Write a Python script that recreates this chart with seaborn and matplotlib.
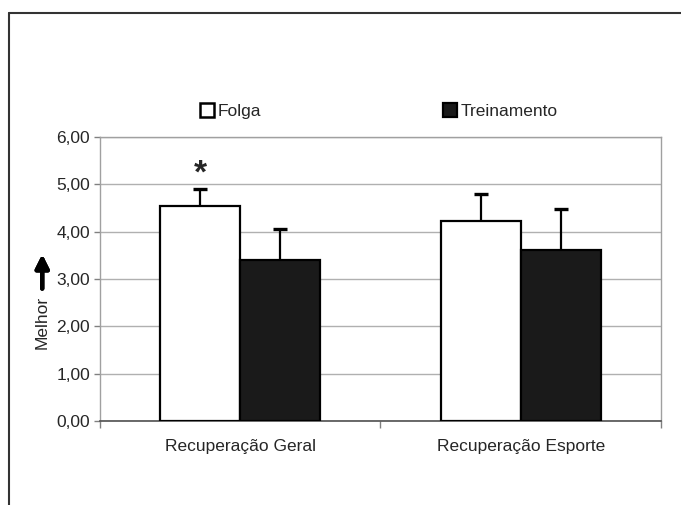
import pandas as pd
import seaborn as sns
import matplotlib.pyplot as plt
from matplotlib.lines import Line2D
from matplotlib.ticker import FuncFormatter

categorias = ['Recuperação Geral', 'Recuperação Esporte']
grupos = ['Folga', 'Treinamento']
folga = [4.54, 4.22]
treino = [3.40, 3.62]
folga_dp = [0.36, 0.58]
treino_dp = [0.66, 0.85]

df = pd.DataFrame({
    'cat': categorias * 2,
    'grupo': [grupos[0]] * 2 + [grupos[1]] * 2,
    'valor': folga + treino,
    'dp': folga_dp + treino_dp,
})

sns.set_theme(style='white')
plt.rcParams['font.family'] = ['Liberation Sans', 'DejaVu Sans']

fig = plt.figure(figsize=(6.81, 5.05), dpi=100)
ax = fig.add_axes([0.1468, 0.1663, 0.8238, 0.5624])

sns.barplot(data=df, x='cat', y='valor', hue='grupo', order=categorias, hue_order=grupos,
            palette={'Folga': 'white', 'Treinamento': '#1a1a1a'}, width=0.57,
            edgecolor='black', linewidth=1.6, ax=ax, legend=False, errorbar=None, zorder=3)

# upper-only error bars at the bar centres
for bars, g in zip(ax.containers, grupos):
    sub = df[df['grupo'] == g].set_index('cat').loc[categorias]
    xs = [b.get_x() + b.get_width() / 2 for b in bars]
    eb = ax.errorbar(xs, sub['valor'], yerr=[[0] * len(xs), sub['dp']], fmt='none',
                     ecolor='black', elinewidth=1.6, capsize=5, capthick=2.4, zorder=4)
    eb[1][0].set_visible(False)  # no cap at the bar top

# asterisk above Folga / Recuperação Geral
b0 = ax.containers[0][0]
ax.text(b0.get_x() + b0.get_width() / 2, folga[0] + folga_dp[0] - 0.02, '*',
        ha='center', va='bottom', fontsize=24, fontweight='bold')

ax.set_ylim(0, 6)
ax.set_xlim(-0.5, 1.5)
ax.set_yticks(range(0, 7))
ax.yaxis.set_major_formatter(FuncFormatter(lambda v, p: f'{v:.2f}'.replace('.', ',')))
ax.yaxis.grid(True, color='#b0b0b0', linewidth=1.0, zorder=0)
ax.set_axisbelow(True)
ax.tick_params(axis='y', labelsize=12.5, length=4, width=1, color='#808080', left=True, pad=3)
ax.tick_params(axis='x', which='major', labelsize=12.5, length=0, pad=13)
ax.set_xticks([-0.5, 0.5, 1.5], minor=True)
ax.tick_params(axis='x', which='minor', length=5, width=1, color='#808080', bottom=True)
ax.set_xlabel('')
ax.set_ylabel('')
for s in ['top', 'right', 'left']:
    ax.spines[s].set_color('#a0a0a0')
    ax.spines[s].set_linewidth(1.0)
ax.spines['bottom'].set_color('#505050')
ax.spines['bottom'].set_linewidth(1.2)

# y label with arrow
fig.text(0.062, 0.362, 'Melhor', rotation=90, ha='center', va='center', fontsize=12.5)
fig.add_artist(plt.annotate('', xy=(0.062, 0.502), xytext=(0.062, 0.423), xycoords='figure fraction',
                            arrowprops=dict(arrowstyle='-|>', color='black', lw=3.2,
                                            mutation_scale=20)))

# legend across the top
handles = [plt.Rectangle((0, 0), 1, 1, facecolor='white', edgecolor='black', linewidth=1.8),
           plt.Rectangle((0, 0), 1, 1, facecolor='#1a1a1a', edgecolor='black', linewidth=1.6)]
fig.legend(handles, grupos, loc='center', bbox_to_anchor=(0.556, 0.78), ncol=2, frameon=False,
           fontsize=12.5, handlelength=0.8, handleheight=0.8, handletextpad=0.2, columnspacing=10.5)

# outer frame lines
fig.add_artist(Line2D([0.0132, 0.0132], [0, 0.974], color='#333333', lw=1.5))
fig.add_artist(Line2D([0.0132, 1], [0.974, 0.974], color='#333333', lw=1.5))

fig.savefig('out.png', dpi=100)
